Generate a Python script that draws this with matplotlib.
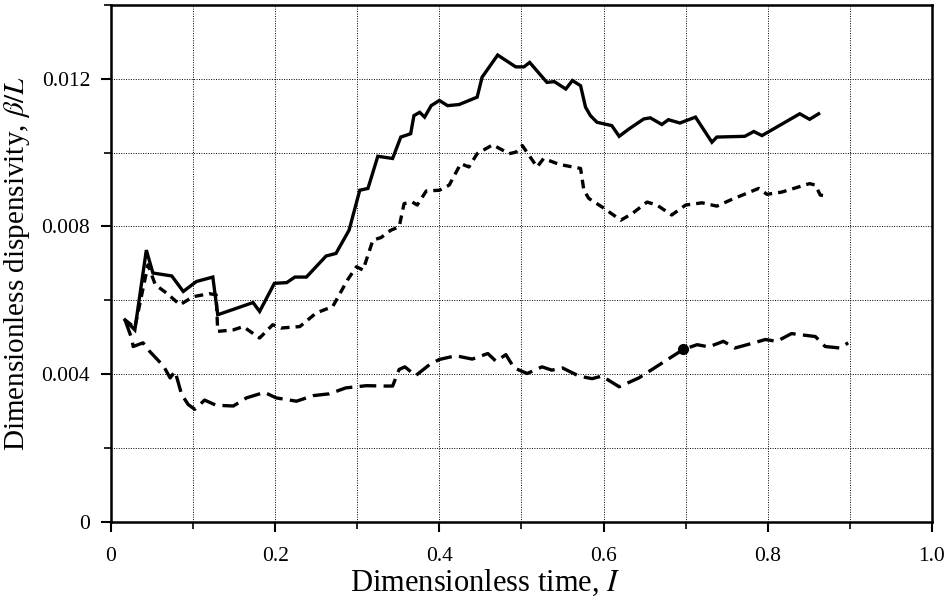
import numpy as np
import matplotlib
matplotlib.use("Agg")
import matplotlib.pyplot as plt
from matplotlib.ticker import MultipleLocator, FuncFormatter

# solid curve
t_solid = [0.017, 0.029, 0.043, 0.051, 0.074, 0.088, 0.104, 0.124, 0.130, 0.173,
           0.181, 0.199, 0.214, 0.224, 0.238, 0.262, 0.274, 0.290, 0.303, 0.313,
           0.325, 0.343, 0.353, 0.365, 0.369, 0.376, 0.382, 0.390, 0.400, 0.410,
           0.424, 0.446, 0.452, 0.471, 0.493, 0.503, 0.510, 0.531, 0.540, 0.554,
           0.562, 0.572, 0.578, 0.584, 0.592, 0.610, 0.619, 0.631, 0.649, 0.657,
           0.671, 0.679, 0.693, 0.712, 0.732, 0.738, 0.772, 0.783, 0.793, 0.839,
           0.851, 0.862]
b_solid = [5.47, 5.20, 7.36, 6.74, 6.66, 6.24, 6.51, 6.63, 5.61, 5.94,
           5.70, 6.46, 6.48, 6.63, 6.63, 7.20, 7.27, 7.90, 8.98, 9.03,
           9.90, 9.84, 10.42, 10.51, 11.00, 11.09, 10.96, 11.27, 11.41, 11.27,
           11.30, 11.50, 12.04, 12.64, 12.32, 12.32, 12.44, 11.90, 11.92, 11.72,
           11.95, 11.81, 11.23, 11.00, 10.82, 10.73, 10.44, 10.64, 10.91, 10.94,
           10.76, 10.89, 10.80, 10.96, 10.28, 10.42, 10.44, 10.57, 10.46, 11.05,
           10.90, 11.05]

# short-dashed curve
t_short = [0.017, 0.029, 0.045, 0.054, 0.068, 0.084, 0.100, 0.120, 0.128, 0.130,
           0.149, 0.161, 0.181, 0.197, 0.207, 0.230, 0.250, 0.270, 0.288, 0.299,
           0.307, 0.319, 0.329, 0.341, 0.351, 0.357, 0.367, 0.373, 0.384, 0.400,
           0.412, 0.426, 0.436, 0.446, 0.465, 0.485, 0.493, 0.501, 0.519, 0.527,
           0.546, 0.572, 0.576, 0.582, 0.598, 0.621, 0.635, 0.653, 0.665, 0.683,
           0.700, 0.720, 0.738, 0.756, 0.789, 0.799, 0.817, 0.851, 0.858, 0.864,
           0.872]
b_short = [5.47, 5.26, 6.96, 6.42, 6.19, 5.88, 6.10, 6.18, 6.15, 5.16,
           5.20, 5.29, 4.98, 5.34, 5.25, 5.29, 5.66, 5.83, 6.55, 6.91,
           6.82, 7.63, 7.70, 7.90, 7.99, 8.62, 8.66, 8.58, 8.96, 8.98,
           9.12, 9.70, 9.61, 9.97, 10.21, 9.97, 10.01, 10.19, 9.61, 9.84,
           9.68, 9.57, 8.98, 8.76, 8.53, 8.17, 8.35, 8.66, 8.58, 8.31,
           8.58, 8.64, 8.55, 8.73, 9.03, 8.87, 8.93, 9.16, 9.12, 8.85,
           8.82]

# long-dashed curve
t_long = [0.017, 0.025, 0.027, 0.039, 0.047, 0.064, 0.072, 0.078, 0.086, 0.094,
          0.102, 0.114, 0.128, 0.149, 0.165, 0.187, 0.201, 0.226, 0.246, 0.266,
          0.286, 0.311, 0.335, 0.343, 0.351, 0.358, 0.371, 0.388, 0.400, 0.420,
          0.440, 0.459, 0.469, 0.481, 0.491, 0.507, 0.525, 0.537, 0.550, 0.570,
          0.586, 0.598, 0.619, 0.643, 0.697, 0.714, 0.728, 0.746, 0.760, 0.785,
          0.797, 0.811, 0.829, 0.858, 0.870, 0.888, 0.898]
b_long = [5.47, 4.98, 4.75, 4.85, 4.62, 4.22, 3.90, 4.08, 3.45, 3.18,
          3.05, 3.30, 3.16, 3.14, 3.36, 3.51, 3.36, 3.27, 3.42, 3.47,
          3.63, 3.69, 3.68, 3.68, 4.13, 4.20, 3.96, 4.26, 4.40, 4.50,
          4.41, 4.56, 4.35, 4.53, 4.17, 4.02, 4.20, 4.11, 4.17, 3.95,
          3.88, 3.95, 3.66, 3.90, 4.67, 4.80, 4.74, 4.89, 4.71, 4.86,
          4.94, 4.89, 5.10, 5.02, 4.75, 4.71, 4.85]

# marked point on long-dashed curve
t_mark = [0.697]
b_mark = [4.67]

scale = 1e-3

plt.rcParams['font.family'] = ['Liberation Serif', 'DejaVu Serif']
plt.rcParams['mathtext.fontset'] = 'stix'

fig = plt.figure(figsize=(9.49, 6.0), dpi=100)
ax = fig.add_axes([0.117, 0.13, 0.865, 0.862])

lw = 2.4
ax.plot(t_solid, np.array(b_solid) * scale, color='black', lw=lw,
        solid_joinstyle='miter')
ax.plot(t_short, np.array(b_short) * scale, color='black', lw=lw,
        dashes=(2.6, 1.8))
ax.plot(t_long, np.array(b_long) * scale, color='black', lw=lw,
        dashes=(5.0, 2.2))
ax.plot(t_mark, np.array(b_mark) * scale, 'o', color='black', ms=7)

ax.set_xlim(0, 1.0)
ax.set_ylim(0, 0.014)

ax.xaxis.set_major_locator(MultipleLocator(0.2))
ax.xaxis.set_minor_locator(MultipleLocator(0.1))
ax.yaxis.set_major_locator(MultipleLocator(0.004))
ax.yaxis.set_minor_locator(MultipleLocator(0.002))

def xfmt(v, pos):
    if abs(v) < 1e-9:
        return '0'
    return f'{v:.1f}'

def yfmt(v, pos):
    if abs(v) < 1e-12:
        return '0'
    return f'{v:.3f}'

ax.xaxis.set_major_formatter(FuncFormatter(xfmt))
ax.yaxis.set_major_formatter(FuncFormatter(yfmt))

ax.grid(True, which='both', linestyle=(0, (1, 1.5)), color='black', lw=0.7)
ax.tick_params(which='major', direction='out', length=7, width=1.5,
               labelsize=15.5)
ax.tick_params(axis='x', which='major', pad=11)
ax.tick_params(axis='y', which='major', pad=8)
ax.tick_params(which='minor', direction='out', length=5, width=1.2)
for s in ax.spines.values():
    s.set_linewidth(1.8)

ax.set_xlabel('Dimensionless time, $I$', fontsize=22)
ax.xaxis.set_label_coords(0.456, -0.088)
ax.set_ylabel(r'Dimensionless dispensivity, $\beta/L$', fontsize=21, labelpad=7)

fig.savefig('out.png', dpi=100)
